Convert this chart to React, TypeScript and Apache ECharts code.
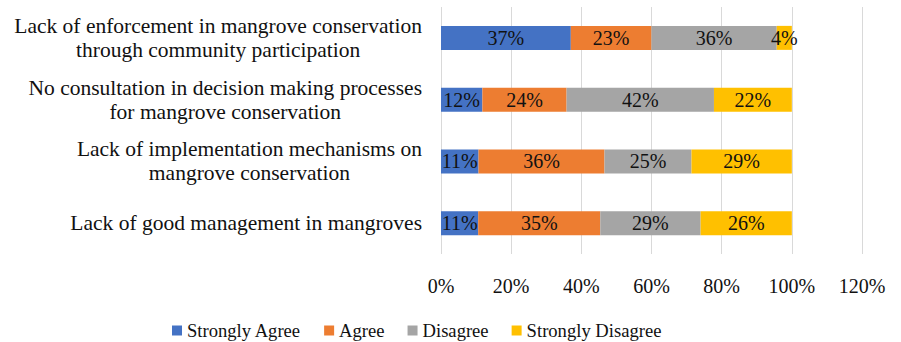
import React, { useEffect, useRef } from "react";
import * as echarts from "echarts";

const categories = [
  "Lack of enforcement in mangrove conservation\nthrough community participation",
  "No consultation in decision making processes\nfor mangrove conservation",
  "Lack of implementation mechanisms on\nmangrove conservation",
  "Lack of good management in mangroves",
];
const seriesNames = ["Strongly Agree", "Agree", "Disagree", "Strongly Disagree"];
const stronglyAgree = [37.0, 11.8, 10.7, 10.6];
const agree = [23.0, 24.0, 35.9, 34.8];
const disagree = [35.7, 42.0, 24.8, 28.6];
const stronglyDisagree = [4.3, 22.2, 28.6, 26.0];
const xTickFormat = "{value}%";
const colors = ["#4472C4", "#ED7D31", "#A5A5A5", "#FFC000"];

const FONT = "Liberation Serif";

export default function App() {
  const ref = useRef<HTMLDivElement>(null);
  useEffect(() => {
    if (!ref.current) return;
    const chart = echarts.init(ref.current, undefined, { renderer: "svg" });
    const values = [stronglyAgree, agree, disagree, stronglyDisagree];
    chart.setOption({
      animation: false,
      textStyle: { fontFamily: FONT },
      color: colors,
      grid: { left: 441, right: 39, top: 7, bottom: 88, containLabel: false },
      legend: {
        top: 316,
        left: 167,
        itemWidth: 10,
        itemHeight: 10,
        itemGap: 23,
        icon: "rect",
        textStyle: { fontFamily: FONT, fontSize: 18.6, color: "#111" },
        data: seriesNames,
      },
      xAxis: {
        type: "value",
        min: 0,
        max: 120,
        interval: 20,
        axisLine: { show: false },
        axisTick: { show: false },
        splitLine: { show: true, lineStyle: { color: "#d9d9d9", width: 1 } },
        axisLabel: {
          formatter: xTickFormat,
          fontFamily: FONT,
          fontSize: 20,
          color: "#111",
          margin: 22,
        },
      },
      yAxis: {
        type: "category",
        inverse: true,
        data: categories,
        axisLine: { show: false },
        axisTick: { show: false },
        axisLabel: {
          margin: 19,
          formatter: (v: string) =>
            v
              .split("\n")
              .map((l) => "{c|" + l + "}")
              .join("\n"),
          rich: {
            c: {
              align: "center",
              fontFamily: FONT,
              fontSize: 21.5,
              lineHeight: 24,
              color: "#111",
            },
          },
        },
      },
      series: seriesNames.map((name, i) => ({
        name,
        type: "bar",
        stack: "total",
        barWidth: 24,
        data: values[i],
        itemStyle: { color: colors[i] },
        label: {
          show: true,
          position: "inside",
          fontFamily: FONT,
          fontSize: 20,
          color: "#111",
          formatter: (p: any) => Math.round(p.value) + "%",
        },
      })),
    });
    return () => chart.dispose();
  }, []);
  return (
    <div
      ref={ref}
      style={{ position: "absolute", left: 0, top: 0, width: 901, height: 342 }}
    />
  );
}
